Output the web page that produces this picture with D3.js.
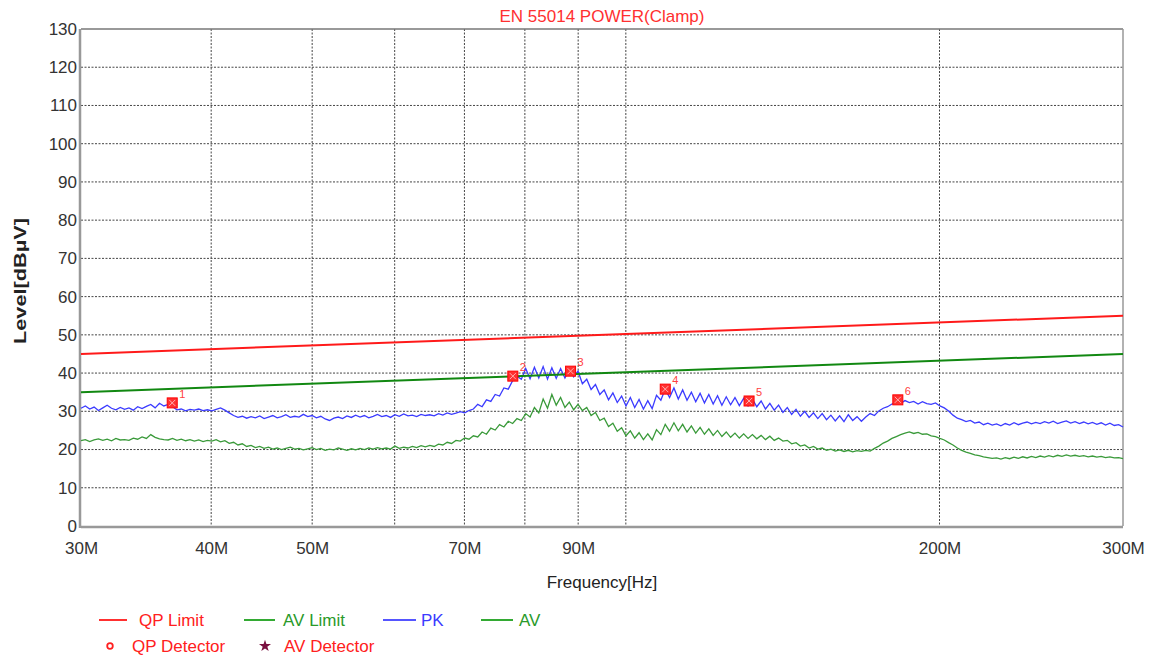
<!DOCTYPE html>
<html>
<head>
<meta charset="utf-8">
<script src="https://cdn.jsdelivr.net/npm/d3@7"></script>
<style>
  html, body { margin: 0; padding: 0; background: #fff; }
  svg { display: block; font-family: "Liberation Sans", Arial, sans-serif; }
</style>
</head>
<body>
<svg id="chart" width="1153" height="660"></svg>
<script>
// Receiver sweep: 30 MHz to 300 MHz, log-spaced points
const sweepStartMHz = 30;
const sweepStopMHz = 300;

// Peak detector trace [dBµV]
const pkLevels = [
  30.8, 31.4, 30.6, 31.1, 30.2, 30.9, 31.6, 30.8, 30.4, 31.0,
  30.5, 30.9, 30.3, 31.2, 30.7, 31.3, 31.8, 30.9, 32.1, 31.4,
  31.8, 31.2, 30.4, 30.6, 30.1, 30.5, 30.3, 30.6, 30.2, 30.4,
  30.1, 30.5, 30.9, 30.3, 29.6, 28.9, 28.4, 28.7, 28.2, 28.6,
  28.3, 28.8, 28.1, 28.5, 28.9, 28.3, 28.6, 29.1, 28.4, 28.7,
  28.5, 29.2, 28.6, 28.9, 28.3, 28.7, 28.0, 27.6, 28.2, 28.5,
  28.1, 28.8, 28.4, 29.0, 28.5, 28.9, 28.3, 28.7, 29.2, 28.6,
  28.9, 28.4, 29.1, 28.7, 29.3, 28.8, 29.0, 28.6, 29.2, 28.9,
  29.1, 28.8, 29.4, 29.0, 29.6, 29.2, 29.5, 29.9, 29.6, 30.2,
  30.6, 31.8, 31.2, 33.0, 32.6, 34.4, 34.0, 36.1, 35.8, 38.0,
  39.2, 38.4, 41.2, 38.5, 41.5, 38.7, 41.7, 38.4, 41.4, 38.6,
  41.2, 38.7, 41.0, 39.0, 40.5, 37.2, 38.4, 35.7, 37.0, 34.4,
  35.6, 33.0, 34.8, 32.3, 34.0, 31.4, 33.6, 31.0, 33.1, 30.6,
  32.8, 30.7, 34.2, 32.9, 35.8, 33.6, 36.1, 33.2, 35.6, 32.9,
  35.0, 32.5, 34.7, 32.2, 34.4, 31.9, 34.1, 31.6, 33.8, 31.7,
  33.6, 31.5, 33.4, 31.4, 33.2, 31.2, 32.7, 30.6, 32.1, 30.3,
  31.6, 29.7, 31.0, 29.2, 30.5, 28.7, 30.0, 28.4, 29.6, 28.1,
  29.4, 27.8, 29.0, 27.5, 28.8, 27.3, 29.1, 27.6, 28.6, 27.4,
  28.5, 29.4, 28.9, 30.1, 30.8, 31.2, 31.9, 32.4, 32.1, 32.8,
  32.3, 32.6, 31.9, 32.5, 32.0, 31.8, 32.2, 31.4, 30.9, 30.1,
  29.0, 28.2, 27.8, 27.3, 27.6, 26.9, 27.2, 26.5, 26.9, 26.4,
  26.7, 26.2, 26.8, 26.4, 27.0, 26.5, 26.9, 27.2, 26.7, 27.1,
  26.8, 27.3, 26.9, 27.4, 26.8, 27.2, 27.5, 26.9, 27.3, 26.8,
  27.2, 26.7, 27.1, 26.6, 27.0, 26.4, 26.9, 26.3, 26.5, 25.9
];

// Average detector trace [dBµV]
const avLevels = [
  22.3, 22.6, 22.1, 22.5, 22.8, 22.4, 22.7, 22.3, 22.9, 22.5,
  22.6, 22.4, 23.0, 22.7, 23.3, 22.9, 23.9, 23.2, 22.8, 22.6,
  22.5, 22.9, 22.4, 22.7, 22.3, 22.6, 22.2, 22.5, 22.1, 22.4,
  22.2, 22.6, 22.0, 22.3, 21.6, 21.9, 21.2, 21.5, 20.8, 21.1,
  20.5, 20.8, 20.3, 20.6, 20.1, 20.4, 20.0, 20.3, 20.6, 20.1,
  20.3, 19.9, 20.2, 20.5, 20.0, 20.3, 19.8, 20.1, 19.9, 20.4,
  20.1, 19.8, 20.2, 19.9, 20.3, 20.0, 20.4, 20.1, 20.5, 20.2,
  20.4, 20.1, 20.9, 20.3, 20.6, 20.4, 20.8, 20.5, 21.0, 20.7,
  21.1, 20.8, 21.4, 21.2, 21.9, 21.6, 22.4, 22.2, 23.0, 22.7,
  23.6, 23.3, 24.6, 24.0, 25.6, 25.1, 26.5, 25.9, 27.4, 26.8,
  28.1, 27.6, 29.4, 28.5, 31.0, 29.6, 33.2, 30.8, 34.4, 31.6,
  33.6, 31.0, 32.4, 30.4, 31.8, 30.2, 31.0, 28.9, 29.7, 27.6,
  28.2, 26.0, 26.9, 24.8, 25.7, 23.6, 24.9, 23.0, 24.4, 22.6,
  24.1, 22.5, 25.2, 23.9, 26.6, 24.8, 27.0, 24.9, 26.6, 24.6,
  26.2, 24.3, 25.8, 24.0, 25.4, 23.7, 25.0, 23.4, 24.6, 23.2,
  24.3, 23.0, 24.1, 22.9, 23.9, 22.8, 23.7, 22.6, 23.5, 22.4,
  23.0, 22.2, 22.4, 21.5, 21.8, 20.9, 21.2, 20.4, 20.8, 20.1,
  20.4, 19.8, 20.1, 19.6, 19.9, 19.5, 19.8, 19.4, 19.7, 19.5,
  19.8, 19.6, 20.3, 20.9, 21.7, 22.2, 22.9, 23.4, 23.9, 24.3,
  24.6, 24.2, 24.5, 24.0, 24.1, 23.6, 23.4, 22.9, 22.5, 21.8,
  21.2, 20.4, 19.8, 19.3, 19.0, 18.6, 18.4, 18.1, 17.9, 17.7,
  17.8, 17.5, 17.9, 17.6, 18.0, 17.7, 18.1, 17.8, 18.2, 17.9,
  18.3, 18.0, 18.4, 18.1, 18.5, 18.2, 18.6, 18.3, 18.5, 18.2,
  18.4, 18.1, 18.3, 18.0, 18.2, 17.9, 18.1, 17.8, 17.9, 17.6
];

// Limit lines (straight in log frequency): [freq MHz, dBµV]
const qpLimit = [[30, 45], [300, 55]];
const avLimit = [[30, 35], [300, 45]];

// Peak markers: frequency [MHz], level [dBµV]
const markerFreqs = [36.7, 77.9, 88.5, 109.1, 131.3, 182.4];
const markerLevels = [32.2, 39.2, 40.5, 35.8, 32.7, 33.0];
const markerIds = ["1", "2", "3", "4", "5", "6"];

// Axis ticks
const xGridMHz = [40, 50, 60, 70, 80, 90, 100, 200];
const xLabelMHz = [30, 40, 50, 70, 90, 200, 300];
const yTicks = d3.range(0, 131, 10);

const svg = d3.select("#chart");
const margin = { left: 81, top: 29, right: 1123, bottom: 526 };
const fontSize = "17px";

const x = d3.scaleLog().domain([sweepStartMHz, sweepStopMHz]).range([margin.left, margin.right]);
const y = d3.scaleLinear().domain([0, 130]).range([margin.bottom, margin.top]);

// Frequency of each sweep point
const n = pkLevels.length;
const freqAt = i => sweepStartMHz * Math.pow(sweepStopMHz / sweepStartMHz, i / (n - 1));

// Title
svg.append("text")
  .attr("x", 602).attr("y", 22)
  .attr("text-anchor", "middle")
  .attr("fill", "#ff3030")
  .style("font-size", fontSize)
  .text("EN 55014 POWER(Clamp)");

// Grid
const grid = svg.append("g");
grid.selectAll("line.h").data(yTicks.filter(v => v > 0 && v < 130)).join("line")
  .attr("x1", margin.left).attr("x2", margin.right)
  .attr("y1", d => y(d)).attr("y2", d => y(d))
  .attr("stroke", "#444").attr("stroke-width", 1).attr("stroke-dasharray", "2,1.5");
grid.selectAll("line.v").data(xGridMHz).join("line")
  .attr("x1", d => x(d)).attr("x2", d => x(d))
  .attr("y1", margin.top).attr("y2", margin.bottom)
  .attr("stroke", "#444").attr("stroke-width", 1).attr("stroke-dasharray", "2,1.5");

// Frame
svg.append("line").attr("x1", margin.left).attr("x2", margin.right)
  .attr("y1", margin.top).attr("y2", margin.top).attr("stroke", "#777").attr("stroke-width", 1.5);
svg.append("line").attr("x1", margin.right).attr("x2", margin.right)
  .attr("y1", margin.top).attr("y2", margin.bottom).attr("stroke", "#999").attr("stroke-width", 1.5);
svg.append("line").attr("x1", margin.left).attr("x2", margin.right)
  .attr("y1", margin.bottom + 1).attr("y2", margin.bottom + 1).attr("stroke", "#999").attr("stroke-width", 2.5);
svg.append("line").attr("x1", margin.left - 1).attr("x2", margin.left - 1)
  .attr("y1", margin.top).attr("y2", margin.bottom + 2).attr("stroke", "#999").attr("stroke-width", 2.5);

// Y axis labels
const yAxis = d3.axisLeft(y).tickValues(yTicks).tickSize(0).tickPadding(3);
const gy = svg.append("g").attr("transform", `translate(${margin.left - 1},0)`).call(yAxis);
gy.select(".domain").remove();
gy.selectAll("text").attr("fill", "#333").style("font-size", fontSize)
  .style("font-family", "'Liberation Sans', Arial, sans-serif");

// X axis labels
const xAxis = d3.axisBottom(x).tickValues(xLabelMHz).tickSize(0).tickPadding(16)
  .tickFormat(d => d + "M");
const gx = svg.append("g").attr("transform", `translate(0,${margin.bottom})`).call(xAxis);
gx.select(".domain").remove();
gx.selectAll("text").attr("fill", "#333").style("font-size", fontSize)
  .style("font-family", "'Liberation Sans', Arial, sans-serif");

// Axis titles
svg.append("text")
  .attr("x", 602).attr("y", 588)
  .attr("text-anchor", "middle").attr("fill", "#222")
  .style("font-size", fontSize)
  .text("Frequency[Hz]");
svg.append("text")
  .attr("transform", "translate(26,281) rotate(-90)")
  .attr("text-anchor", "middle").attr("fill", "#222")
  .attr("textLength", 126).attr("lengthAdjust", "spacingAndGlyphs")
  .style("font-size", "17px").style("font-weight", "bold")
  .text("Level[dBµV]");

// Traces
const plot = svg.append("g");
const trace = d3.line().x((d, i) => x(freqAt(i))).y(d => y(d));
const limitLine = d3.line().x(d => x(d[0])).y(d => y(d[1]));

plot.append("path").datum(avLevels).attr("d", trace)
  .attr("fill", "none").attr("stroke", "#3a9a3a").attr("stroke-width", 1.3);
plot.append("path").datum(pkLevels).attr("d", trace)
  .attr("fill", "none").attr("stroke", "#3b3bff").attr("stroke-width", 1.3);
plot.append("path").datum(qpLimit).attr("d", limitLine)
  .attr("fill", "none").attr("stroke", "#ff1a1a").attr("stroke-width", 2);
plot.append("path").datum(avLimit).attr("d", limitLine)
  .attr("fill", "none").attr("stroke", "#118811").attr("stroke-width", 2);

// Peak markers
const markers = plot.selectAll("g.marker").data(markerFreqs).join("g")
  .attr("transform", (d, i) => `translate(${x(d)},${y(markerLevels[i])})`);
markers.append("rect")
  .attr("x", -5).attr("y", -5).attr("width", 10).attr("height", 10)
  .attr("fill", "#ff3030").attr("stroke", "#ff0000").attr("stroke-width", 1);
markers.append("path")
  .attr("d", "M-3,-3L3,3M3,-3L-3,3")
  .attr("stroke", "#ffb0b0").attr("stroke-width", 1);
markers.append("text")
  .attr("x", 7).attr("y", -5)
  .attr("fill", "#ff4040").style("font-size", "11px")
  .text((d, i) => markerIds[i]);

// Legend
const legend = svg.append("g").style("font-size", fontSize);
const legendLines = [
  { x1: 99, x2: 127, tx: 139, color: "#ff3030", text: "QP Limit", textColor: "#ff2020" },
  { x1: 244, x2: 275, tx: 283, color: "#33aa33", text: "AV Limit", textColor: "#2a9a2a" },
  { x1: 383, x2: 416, tx: 421, color: "#5555ff", text: "PK", textColor: "#3b3bff" },
  { x1: 481, x2: 513, tx: 519, color: "#33aa33", text: "AV", textColor: "#2a9a2a" }
];
legendLines.forEach(d => {
  legend.append("line").attr("x1", d.x1).attr("x2", d.x2)
    .attr("y1", 620).attr("y2", 620).attr("stroke", d.color).attr("stroke-width", 2);
  legend.append("text").attr("x", d.tx).attr("y", 626)
    .attr("fill", d.textColor).text(d.text);
});
legend.append("circle").attr("cx", 110).attr("cy", 646).attr("r", 2.8)
  .attr("fill", "none").attr("stroke", "#ff2020").attr("stroke-width", 1.8);
legend.append("text").attr("x", 132).attr("y", 652).attr("fill", "#ff2020").text("QP Detector");
legend.append("path").attr("transform", "translate(265,646)")
  .attr("d", d3.symbol(d3.symbolStar, 45)())
  .attr("fill", "#7a1040");
legend.append("text").attr("x", 284).attr("y", 652).attr("fill", "#ff2020").text("AV Detector");
</script>
</body>
</html>
